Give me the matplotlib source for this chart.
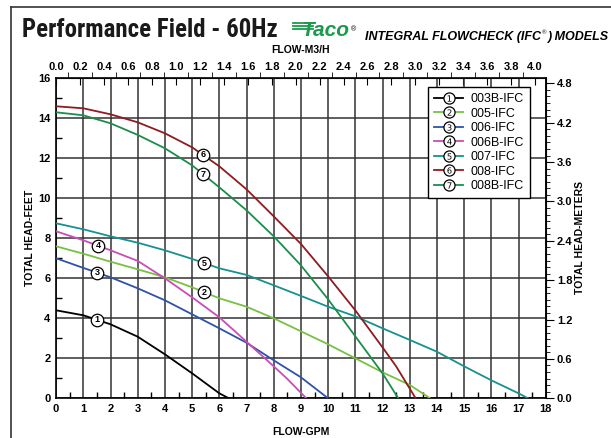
import matplotlib
matplotlib.use("Agg")
import matplotlib.pyplot as plt
import numpy as np
from matplotlib.lines import Line2D
from matplotlib.legend_handler import HandlerTuple
from matplotlib.ticker import MultipleLocator, FormatStrFormatter

# ---------------- data ----------------
models = ["003B-IFC", "005-IFC", "006-IFC", "006B-IFC", "007-IFC", "008-IFC", "008B-IFC"]
numbers = ["1", "2", "3", "4", "5", "6", "7"]
colors = ["#000000", "#78c043", "#2f52a8", "#c94db4", "#16918f", "#8e1b1f", "#1b8d4c"]

x_003B = [0, 1, 2, 3, 4, 5, 6, 6.35]
y_003B = [4.4, 4.15, 3.7, 3.08, 2.2, 1.25, 0.25, 0]

x_005 = [0, 1, 2, 3, 4, 5, 6, 7, 8, 9, 10, 11, 12, 13, 13.75]
y_005 = [7.6, 7.23, 6.83, 6.45, 6.05, 5.55, 5.0, 4.58, 4.0, 3.35, 2.7, 2.0, 1.3, 0.67, 0]

x_006 = [0, 1, 2, 3, 4, 5, 6, 7, 8, 9, 10]
y_006 = [7.0, 6.52, 6.05, 5.5, 4.9, 4.2, 3.5, 2.78, 1.9, 1.05, 0]

x_006B = [0, 1, 2, 3, 4, 5, 6, 7, 8, 8.5, 9.2]
y_006B = [8.35, 7.9, 7.4, 6.87, 6.0, 5.05, 4.05, 2.83, 1.6, 0.97, 0]

x_007 = [0, 1, 2, 3, 4, 5, 6, 7, 8, 9, 10, 11, 12, 13, 14, 15, 16, 17, 17.35]
y_007 = [8.75, 8.45, 8.1, 7.78, 7.4, 6.97, 6.5, 6.17, 5.65, 5.12, 4.58, 4.1, 3.5, 2.92, 2.33, 1.6, 0.9, 0.25, 0]

x_008 = [0, 1, 2, 3, 4, 5, 6, 7, 8, 9, 10, 11, 12, 12.5, 13.22]
y_008 = [14.6, 14.5, 14.2, 13.8, 13.25, 12.55, 11.6, 10.45, 9.1, 7.72, 6.1, 4.4, 2.55, 1.6, 0]

x_008B = [0, 1, 2, 3, 4, 5, 6, 7, 8, 9, 10, 11, 12, 12.58]
y_008B = [14.3, 14.15, 13.75, 13.17, 12.5, 11.65, 10.55, 9.4, 8.1, 6.65, 4.95, 3.1, 1.25, 0]

label_x = [1.5, 5.45, 1.5, 1.55, 5.45, 5.4, 5.4]

xs = [x_003B, x_005, x_006, x_006B, x_007, x_008, x_008B]
ys = [y_003B, y_005, y_006, y_006B, y_007, y_008, y_008B]

GPM_TO_M3H = 0.22712
FT_TO_M = 0.3048

# ---------------- figure ----------------
plt.rcParams['font.family'] = ['Liberation Sans', 'DejaVu Sans']
W, H = 611, 438
fig = plt.figure(figsize=(W / 100, H / 100), dpi=100)
ax = fig.add_axes([56.1 / W, 1 - 398.3 / H, (545.7 - 56.1) / W, (398.3 - 78.3) / H])

ax.set_xlim(0, 18)
ax.set_ylim(0, 16)
ax.xaxis.set_major_locator(MultipleLocator(1))
ax.xaxis.set_minor_locator(MultipleLocator(0.5))
ax.yaxis.set_major_locator(MultipleLocator(2))
ax.yaxis.set_minor_locator(MultipleLocator(1))
ax.grid(True, which='major', color='#333333', lw=1.1)
ax.set_axisbelow(True)
ax.tick_params(axis='both', which='major', length=0, labelsize=8, pad=4)
ax.tick_params(axis='both', which='minor', length=4, direction='in', width=1)
for lab in ax.get_xticklabels() + ax.get_yticklabels():
    lab.set_fontweight('bold')
for s in ax.spines.values():
    s.set_linewidth(1.2)

for x, y, c in zip(xs, ys, colors):
    ax.plot(x, y, color=c, lw=1.3, zorder=3)

# circled number labels on curves
for x, y, lx, num in zip(xs, ys, label_x, numbers):
    ly = np.interp(lx, x, y)
    ax.plot([lx], [ly], marker='o', ms=9, mfc='white', mec='black', mew=0.9, ls='none', zorder=4)
    ax.text(lx, ly, num, ha='center', va='center', fontsize=6.5, fontweight='bold', zorder=5)

# secondary axes
top = ax.secondary_xaxis('top', functions=(lambda g: g * GPM_TO_M3H, lambda m: m / GPM_TO_M3H))
top.set_xticks(np.arange(0, 4.01, 0.2))
top.xaxis.set_minor_locator(MultipleLocator(0.1))
top.xaxis.set_major_formatter(FormatStrFormatter('%.1f'))
top.tick_params(which='major', direction='in', length=5, labelsize=8, pad=4.5)
top.tick_params(which='minor', direction='out', length=4)
for lab in top.get_xticklabels():
    lab.set_fontweight('bold')

right = ax.secondary_yaxis('right', functions=(lambda f: f * FT_TO_M, lambda m: m / FT_TO_M))
right.set_yticks(np.arange(0, 4.81, 0.6))
right.yaxis.set_minor_locator(MultipleLocator(0.1))
right.yaxis.set_major_formatter(FormatStrFormatter('%.1f'))
right.tick_params(which='major', direction='out', length=6, labelsize=8, pad=2)
right.tick_params(which='minor', direction='out', length=3)
for lab in right.get_yticklabels():
    lab.set_fontweight('bold')

# axis titles
fig.text(301 / W, 1 - 50 / H, "FLOW-M3/H", ha='center', va='center', fontsize=7.5, fontweight='bold')
fig.text(301 / W, 1 - 432 / H, "FLOW-GPM", ha='center', va='center', fontsize=7.5, fontweight='bold')
fig.text(30 / W, 1 - 238 / H, "TOTAL HEAD-FEET", ha='center', va='center', rotation=90, fontsize=7.5, fontweight='bold')
fig.text(580 / W, 1 - 238 / H, "TOTAL HEAD-METERS", ha='center', va='center', rotation=90, fontsize=7.5, fontweight='bold')

# legend
handles = []
for c, num in zip(colors, numbers):
    ln = Line2D([], [], color=c, lw=1.3)
    circ = Line2D([], [], marker='o', ms=8, mfc='white', mec='black', mew=0.9, ls='none')
    txt = Line2D([], [], marker='$%s$' % num, ms=4.5, color='black', mew=0, ls='none')
    handles.append((ln, circ, txt))
leg = ax.legend(handles, models, handler_map={tuple: HandlerTuple(ndivide=1)},
                loc='upper right', bbox_to_anchor=(0.968, 0.973), borderaxespad=0,
                fontsize=9, frameon=True, fancybox=False, edgecolor='black',
                framealpha=1, handlelength=2.3, handletextpad=0.6, labelspacing=0.2,
                borderpad=0.5)
leg.get_frame().set_linewidth(1.0)
leg.set_zorder(6)

renderer = fig.canvas.get_renderer()

# title in a condensed bold face, sized to the reference width
title = fig.text(22 / W, 1 - 30 / H, "Performance Field - 60Hz", ha='left', va='center',
                 fontsize=17, fontweight='bold', color='#1a1a1a',
                 family=['Roboto Condensed', 'Archivo Narrow', 'Liberation Sans', 'DejaVu Sans'])
tw = title.get_window_extent(renderer).width
title.set_fontsize(min(19.0, 17.0 * 256.0 / tw))

# Taco logo
for yy in [22.5, 25.5, 28.5]:
    fig.add_artist(Line2D([293 / W, 313 / W], [1 - yy / H, 1 - yy / H], color='#1b9a4c', lw=1.3))
logo = fig.text(302 / W, 1 - 31 / H, "Taco", ha='left', va='center', fontsize=15,
                fontweight='bold', style='italic', color='#1b9a4c')
lx1 = logo.get_window_extent(renderer).x1
fig.text((lx1 + 1) / W, 1 - 30 / H, "®", ha='left', va='center', fontsize=5, color='black')

t1 = fig.text(365 / W, 1 - 37 / H, "INTEGRAL FLOWCHECK (IFC", ha='left', va='center', fontsize=9,
              fontweight='bold', style='italic')
e1 = t1.get_window_extent(renderer).x1
reg = fig.text((e1 + 0.5) / W, 1 - 33 / H, "®", ha='left', va='center', fontsize=4.5)
e2 = reg.get_window_extent(renderer).x1
fig.text((e2 + 0.5) / W, 1 - 37 / H, ") MODELS", ha='left', va='center', fontsize=9,
         fontweight='bold', style='italic')

# page border
fig.add_artist(Line2D([11 / W, 11 / W], [0, 1 - 7 / H], color='#333333', lw=1.2))
fig.add_artist(Line2D([11 / W, 1], [1 - 7 / H, 1 - 7 / H], color='#333333', lw=1.2))

fig.savefig("out.png", dpi=100)
